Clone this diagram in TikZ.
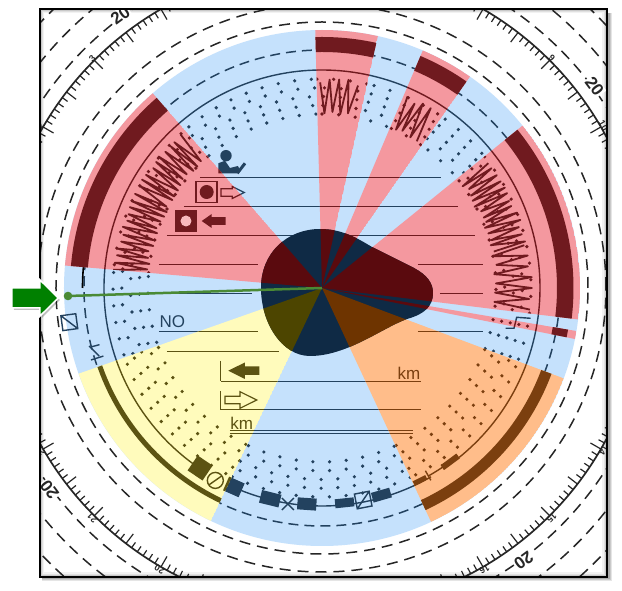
\documentclass[tikz,border=0pt]{standalone}
\usepackage{fontspec}
\setsansfont{Liberation Sans}
\usepackage{tikz}
\definecolor{paperBlue}{HTML}{C5E1FC}
\definecolor{paperred}{HTML}{F4989F}
\definecolor{paperamber}{HTML}{FFBD8A}
\definecolor{paperstraw}{HTML}{FFFBBC}
\definecolor{paperDot}{HTML}{F7B9BD}
\definecolor{inkBlue}{HTML}{23425F}
\definecolor{inkred}{HTML}{701A1F}
\definecolor{inkamber}{HTML}{7B3F0F}
\definecolor{inkstraw}{HTML}{5C5312}
\definecolor{darkBlue}{HTML}{0F2A45}
\definecolor{darkred}{HTML}{5A0A0E}
\definecolor{darkamber}{HTML}{6E3400}
\definecolor{darkstraw}{HTML}{4D4500}
\definecolor{needle}{HTML}{4A8A35}
\colorlet{ink}{inkBlue}
\tikzset{
	rowLine/.style={draw=ink,line width=1},
	railLine/.style={draw=ink,line width=1.4},
	outerRing/.style={draw=black!85,line width=1.5,dash pattern=on 11pt off 7pt},
	innerRing/.style={draw=ink,line width=1.5,dash pattern=on 10pt off 6pt},
	tickLine/.style={draw=black!85,line width=1.2},
	labelText/.style={font=\sffamily\fontsize{17}{17}\selectfont,inner sep=0pt},
	hourText/.style={font=\sffamily\bfseries\fontsize{9}{9}\selectfont,text=black!85,inner sep=0pt},
	bigText/.style={font=\sffamily\bfseries\fontsize{17}{17}\selectfont,text=black!85,inner sep=1pt,fill=white}
}
\newcommand{\sectorPath}[3]{(0,0) -- (#1:#3) arc[start angle=#1,end angle=#2,radius=#3] -- cycle}
\newcommand{\railBlock}[4]{\fill[ink,shift={(#1:#2)},rotate=#1] (-#3/2,-#4/2) rectangle (#3/2,#4/2);}
\newcommand{\crossBox}[2]{\draw[ink,line width=1.4,shift={(#1:#2)},rotate=#1] (-7.5,-7.5) rectangle (7.5,7.5) (-7.5,7.5) -- (7.5,-7.5);}
\newcommand{\flatArrow}[6]{(#1,#4) -- (#2,#4+#6) -- (#2,#4+#5) -- (#3,#4+#5) -- (#3,#4-#5) -- (#2,#4-#5) -- (#2,#4-#6) -- cycle}
\newcommand{\dotArc}[2]{
	\foreach \rr in {174,182.7,191.5,200.2,209}{
		\pgfmathtruncatemacro\nn{#2*\rr/957}
		\foreach \k in {0,...,\nn}{
			\fill[ink] ({#1+(\k-\nn/2)*957/\rr}:\rr) circle[radius=1.8];
		}
	}
}
\newcommand{\zigZag}[3]{
	\pgfmathtruncatemacro\nz{abs(#2-#1)/#3}
	\draw[ink,line width=1.8,line join=round] plot[domain=0:\nz,samples=\nz+1] ({#1+sign(#2-#1)*\x*#3}:{191.5+(19-rnd*5)*cos(180*\x)});
}
\newcommand{\inkLayer}{
	%Lignes
	\foreach \yl/\xa/\xb in {110.5/-122/119,81/-138/136,52/-155/153,23/-163/-64,23/96/161,-6/-163/-70,-6/118/161,-43.5/-163/-64,-43.5/96/161,-63.7/-155/-43,-93.5/-101/99,-122/-101/99,-143/-92/91,-145.5/-92/91}{
		\draw[rowLine] (\xa,\yl) -- (\xb,\yl);
	}
	\draw[rowLine] (-101,-73) -- (-101,-93.5);
	\draw[rowLine] (-101,-103) -- (-101,-122);
	%Cercle
	\draw[railLine] (-51:218) arc[start angle=-51,end angle=235,radius=218];
	\draw[railLine] (244:218) arc[start angle=244,end angle=300,radius=218];
	%Blocs
	\railBlock{235.9}{217.4}{18}{18}
	\railBlock{246.1}{217.6}{15}{17}
	\railBlock{256.2}{217}{13}{20}
	\railBlock{266}{216.5}{12}{19}
	\railBlock{276}{216}{9}{19}
	\railBlock{286}{215.5}{10}{19}
	\railBlock{297}{216}{5}{14}
	\railBlock{-53.5}{216}{6}{19}
	\draw[ink,line width=1.4] (241:220) circle[radius=8];
	\draw[ink,line width=1.4,shift={(241:220)}] (215:8) -- (35:8);
	\draw[ink,line width=1.4,shift={(261:218.7)}] (-6,-6) -- (6,6) (-6,6) -- (6,-6);
	\crossBox{281}{216}
	\draw[ink,line width=1.4] (-60.5:210) -- (-60.5:221);
	\draw[ink,line width=1.4] (-60.5:216) arc[start angle=-60.5,end angle=-56,radius=216];
	\draw[ink,line width=1.4] (-56:213) -- (-56:219);
	\draw[ink,line width=1.4] (183.7,-40.3) -- (192,-40.3) -- (194.7,-29.3) -- (208.7,-30.3);
	%Personnage
	\fill[ink] (-96,132.3) circle[radius=5.7];
	\fill[ink] (-103.7,114.7) -- (-103.7,124.7) -- (-97,127.3) -- (-92,120) -- (-84,122) -- (-82,118) -- (-85,114.7) -- cycle;
	\draw[ink,line width=3] (-84.7,114.7) -- (-77,124.7);
	%Symboles
	\draw[ink,line width=1.2] (-126,85.5) rectangle (-105,106.5);
	\fill[ink] (-115.3,96) circle[radius=7];
	\draw[ink,line width=1.2] \flatArrow{-77.7}{-89.7}{-101}{95.5}{3.7}{6};
	\fill[ink] (-147,56) rectangle (-125,78);
	\fill[color=paperDot] (-136,67) circle[radius=5.5];
	\fill[ink] \flatArrow{-120.3}{-110.3}{-96.3}{67}{3.8}{7};
	\fill[ink] \flatArrow{-93.7}{-77}{-62.7}{-82.7}{4.2}{8.3};
	\draw[ink,line width=1.2] \flatArrow{-65.3}{-82}{-97}{-112}{3.7}{8.3};
}
\newcommand{\blobPath}{(-61,0) .. controls (-61,35) and (-35,59) .. (-2,59) .. controls (20,59) and (35,50) .. (50,41) -- (92,20) .. controls (105,13) and (111,5) .. (111,-5) .. controls (111,-18) and (103,-26) .. (85,-31) .. controls (60,-40) and (25,-68) .. (-12,-68) .. controls (-40,-68) and (-61,-35) .. (-61,0) -- cycle}

\begin{document}
\begin{tikzpicture}[x=1pt,y=1pt]
	\pgfmathsetseed{7}
	\useasboundingbox (-322,-303) rectangle (300,288);
	\fill[white] (-322,-303) rectangle (300,288);
	%Ombre du cadre
	\fill[black,opacity=0.1] (-280,-293) rectangle (290,275);
	\fill[black,opacity=0.12] (-280,-292) rectangle (289,275);
	\fill[black,opacity=0.15] (-280,-291) rectangle (288,275);
	\begin{scope}
		\clip (-282,-289) rectangle (285,279);
		\fill[white] (-282,-289) rectangle (285,279);
		\foreach \w/\op in {9/0.05,6/0.07,4/0.1}{
			\draw[black,opacity=\op,line width=\w] (-282,-289) rectangle (285,279);
		}
		%Anneaux
		\foreach \rr in {266,284,337,361,387}{
			\draw[outerRing] (0,0) circle[radius=\rr];
		}
		%Graduations
		\draw[black!85,line width=1.7] (0,0) circle[radius=322];
		\foreach \t in {0,...,287}{
			\pgfmathsetmacro\ang{\t*1.25}
			\pgfmathsetmacro\len{mod(\t,6)==0 ? 12 : 6.5}
			\draw[tickLine] (\ang:322) -- (\ang:{322-\len});
		}
		\foreach \ang/\hr in {30/10,45/9,135/3,150/2,210/22,225/21,240/20,-30/14,-45/15,-60/16}{
			\node[hourText,rotate=\ang-90] (hour\hr) at (\ang:325) {\hr};
		}
		\foreach \ang in {36.5,126.5,216.5,306.5}{
			\node[bigText,rotate=\ang-90] (big\ang) at (\ang:339) {20};
		}
		%Disque
		\fill[paperBlue] (0,0) circle[radius=258];
		\draw[innerRing] (0,0) circle[radius=238];
		\inkLayer
		\foreach \dm/\ds in {111.25/39.5,71/10.5,47/16,-17.6/9.1,187.2/24.4,269.75/50.5}{
			\dotArc{\dm}{\ds}
		}
		\draw[black,line width=1.6] (175:239.5) arc[start angle=175,end angle=180,radius=239.5];
		\crossBox{187.7}{255}
		\draw[ink,line width=1.4] (194:240) -- (197:233);
		\draw[ink,line width=1.4] (194.3:237.7) -- (194.3:229.6);
		\draw[ink,line width=1.4] (197.3:241.9) -- (197.3:229);
		%Secteurs
		\foreach \sa/\sb/\kind/\bi/\bo/\dm/\ds in {131/175/red/235/252/153/44,77.5/91.5/red/236/251/84.5/14,55/67/red/236/252/61/12,-7/39/red/235/251.5/16/46,-11.4/-9.6/red/234/249.5/-10.5/1.8,-65/-20.5/amber/234/245/-42.75/44.5,199.4/244.5/straw/233/238/222/45.1}{
			\begin{scope}
				\clip \sectorPath{\sa}{\sb}{258};
				\colorlet{ink}{ink\kind}
				\fill[paper\kind] \sectorPath{\sa}{\sb}{258};
				\inkLayer
				\dotArc{\dm}{\ds}
				\pgfmathsetmacro\bw{\bo-\bi}
				\pgfmathsetmacro\br{(\bo+\bi)/2}
				\draw[ink,line width=\bw] (0,0) circle[radius=\br];
			\end{scope}
		}
		%Zigzags
		\begin{scope}
			\colorlet{ink}{inkred}
			\begin{scope}
				\clip \sectorPath{131}{175}{258};
				\zigZag{175}{133}{1}
			\end{scope}
			\begin{scope}
				\clip \sectorPath{77.5}{91.5}{258};
				\zigZag{90.5}{79}{1.3}
			\end{scope}
			\begin{scope}
				\clip \sectorPath{55}{67}{258};
				\zigZag{66}{57}{1.2}
			\end{scope}
			\begin{scope}
				\clip \sectorPath{-7}{39}{258};
				\zigZag{37}{12}{1}
				\zigZag{12}{-6}{1.5}
			\end{scope}
		\end{scope}
		%Textes
		\node[labelText,text=inkBlue,anchor=base] (labelNo) at (-149.7,-39.7) {NO};
		\node[labelText,text=inkstraw,anchor=base] (labelKmA) at (-80.3,-142) {km};
		\node[labelText,text=inkamber,anchor=base] (labelKmB) at (87,-92) {km};
		%Forme centrale
		\begin{scope}
			\clip \blobPath;
			\fill[darkBlue] (-120,-120) rectangle (120,120);
			\foreach \sa/\sb/\kind in {131/175/red,77.5/91.5/red,55/67/red,-7/39/red,-11.4/-9.6/red,-65/-20.5/amber,199.4/244.5/straw}{
				\fill[dark\kind] \sectorPath{\sa}{\sb}{258};
			}
		\end{scope}
	\end{scope}
	%Cadre
	\draw[black,line width=2.5] (-282,-289) rectangle (285,279);
	%Aiguille
	\draw[needle,line width=2.5] (0,0) -- (-254,-8);
	\fill[needle] (-254,-8) circle[radius=4.3];
	%Fleche verte
	\fill[black,opacity=0.25] \flatArrow{-262}{-280}{-308}{-12}{10}{18};
	\draw[white,line width=1.5,fill=green!50!black] \flatArrow{-263.7}{-282}{-310}{-10}{10}{18};
\end{tikzpicture}
\end{document}
